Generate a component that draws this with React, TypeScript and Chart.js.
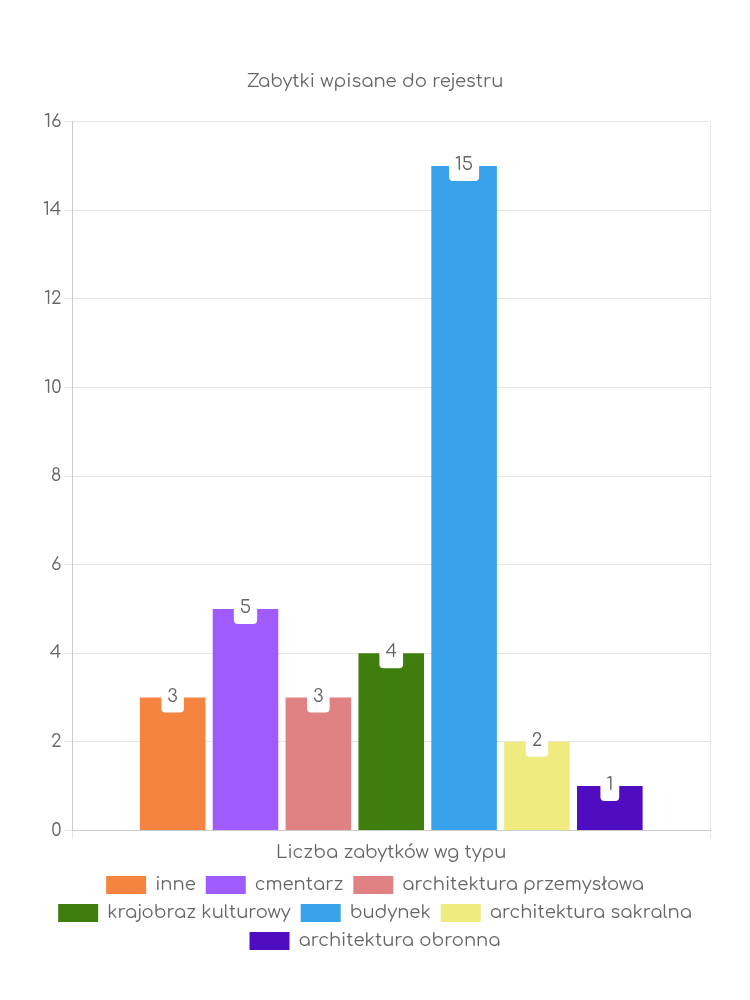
import React, { useEffect, useRef } from "react";
import { Chart, registerables } from "chart.js";

Chart.register(...registerables);

const chartTitle = "Zabytki wpisane do rejestru";
const xAxisTitle = "Liczba zabytków wg typu";
const categories = [""];
const seriesNames = [
  "inne",
  "cmentarz",
  "architektura przemysłowa",
  "krajobraz kulturowy",
  "budynek",
  "architektura sakralna",
  "architektura obronna",
];
const seriesValues = [3, 5, 3, 4, 15, 2, 1];
const seriesColors = [
  "#F58441",
  "#A05BFF",
  "#E08284",
  "#3F7E0D",
  "#38A3EB",
  "#F0EB7E",
  "#4F0CC0",
];

const FONT = "Comfortaa, 'Open Sans', Lato, sans-serif";
const TEXT = "#666666";

const labelPlugin = {
  id: "boxLabels",
  afterDatasetsDraw(chart: any) {
    const ctx = chart.ctx;
    ctx.save();
    ctx.font = `18px ${FONT}`;
    ctx.textAlign = "center";
    ctx.textBaseline = "middle";
    chart.data.datasets.forEach((ds: any, i: number) => {
      const meta = chart.getDatasetMeta(i);
      if (meta.hidden) return;
      meta.data.forEach((bar: any, j: number) => {
        const v = ds.data[j];
        const txt = String(v);
        const w = ctx.measureText(txt).width + 12;
        const h = 30;
        const x = bar.x;
        const y = bar.y;
        ctx.fillStyle = "#ffffff";
        ctx.beginPath();
        (ctx as any).roundRect(x - w / 2, y - h / 2, w, h, 4);
        ctx.fill();
        ctx.fillStyle = TEXT;
        ctx.fillText(txt, x, y - 1);
      });
    });
    ctx.restore();
  },
};

export default function App() {
  const ref = useRef<HTMLCanvasElement>(null);
  useEffect(() => {
    document.body.style.margin = "0";
    const chart = new Chart(ref.current!, {
      type: "bar",
      data: {
        labels: categories,
        datasets: seriesNames.map((name, i) => ({
          label: name,
          data: [seriesValues[i]],
          backgroundColor: seriesColors[i],
          borderWidth: 0,
        })),
      },
      options: {
        animation: false,
        responsive: false,
        maintainAspectRatio: false,
        layout: { padding: { top: 61, left: 40, right: 40, bottom: 40 } },
        plugins: {
          title: {
            display: true,
            text: chartTitle,
            color: TEXT,
            font: { family: FONT, size: 18, weight: "normal" },
            padding: { top: 10, bottom: 29 },
          },
          legend: {
            position: "bottom",
            labels: {
              color: TEXT,
              font: { family: FONT, size: 18 },
              boxWidth: 40,
              boxHeight: 18,
              padding: 10,
            },
          },
          tooltip: { enabled: false },
        },
        scales: {
          x: {
            grid: { color: "#e5e5e5", drawTicks: true, tickLength: 8 },
            border: { color: "#cccccc" },
            ticks: { display: false },
            title: {
              display: true,
              text: xAxisTitle,
              color: TEXT,
              font: { family: FONT, size: 18 },
              padding: { top: 4, bottom: 2 },
            },
          },
          y: {
            min: 0,
            max: 16,
            ticks: {
              stepSize: 2,
              color: TEXT,
              font: { family: FONT, size: 18 },
            },
            grid: { color: "#e5e5e5", tickLength: 8 },
            border: { color: "#cccccc" },
          },
        },
      },
      plugins: [labelPlugin],
    });
    return () => chart.destroy();
  }, []);
  return <canvas ref={ref} width={750} height={1000} />;
}
